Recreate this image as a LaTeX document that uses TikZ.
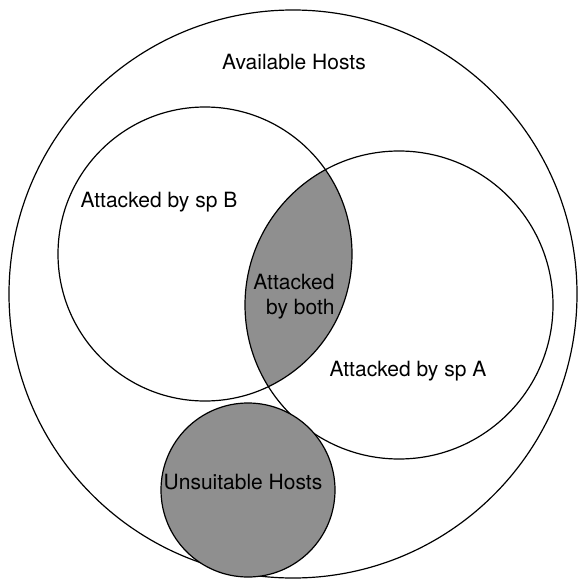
\documentclass[tikz,border=0pt]{standalone}
\usepackage{fontspec}
\setmainfont{TeX Gyre Heros}
\definecolor{hostgray}{RGB}{143,143,143}
\tikzset{
  setline/.style={draw=black, line width=1.2pt},
  lbl/.style={font=\fontsize{21}{24}\selectfont, inner sep=0pt, align=center}
}
\begin{document}
\begin{tikzpicture}[x=1pt,y=-1pt]
\useasboundingbox (0,0) rectangle (579,583);
\coordinate (cU) at (293,294);
\coordinate (cB) at (205,254);
\coordinate (cA) at (399,305);
\coordinate (cN) at (248,490);
% lens fill
\begin{scope}
  \clip (cB) circle[radius=147];
  \fill[hostgray] (cA) circle[radius=154];
\end{scope}
\draw[setline] (cU) circle[radius=284];
\draw[setline] (cB) circle[radius=147];
\draw[setline] (cA) circle[radius=154];
\draw[setline, fill=hostgray] (cN) circle[radius=87];
\node[lbl] (avail) at (294,62) {Available Hosts};
\node[lbl] (spB) at (159,202) {Attacked by sp B};
\node[lbl] (both) at (294,297) {Attacked\\[1pt]\hspace*{0.6em}by both};
\node[lbl] (spA) at (408,371) {Attacked by sp A};
\node[lbl] (unsuit) at (243,482) {Unsuitable Hosts};
\end{tikzpicture}
\end{document}
